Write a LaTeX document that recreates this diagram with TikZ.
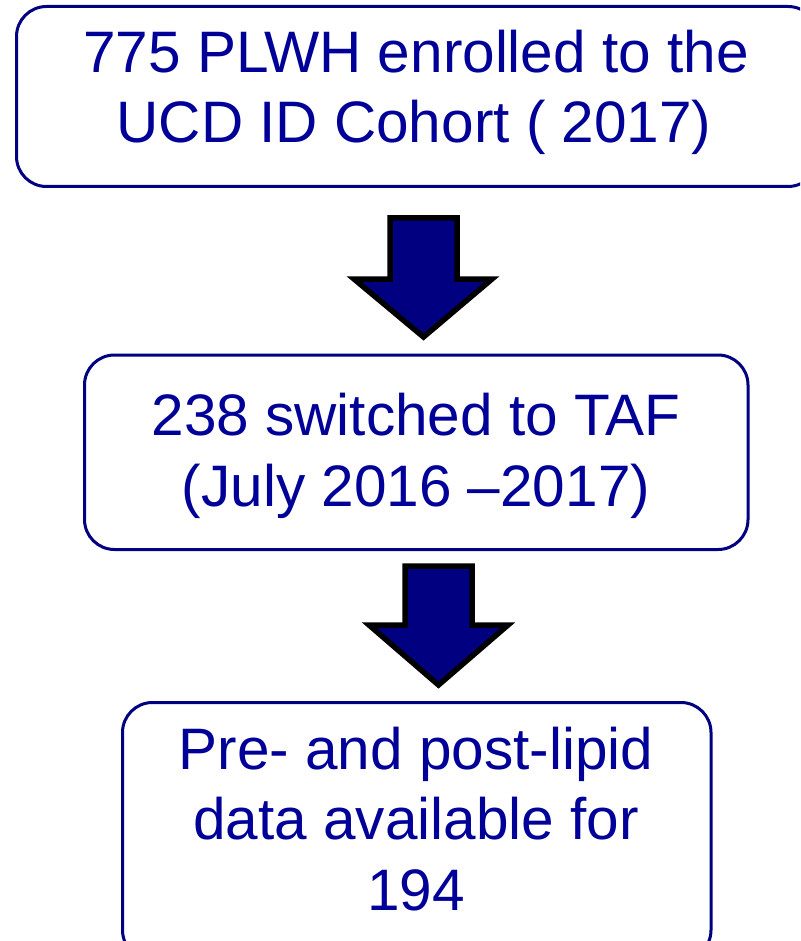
\documentclass[tikz,border=0pt]{standalone}
\usepackage{fontspec}
\setmainfont{Liberation Sans}
\definecolor{boxblue}{RGB}{0,0,128}
\definecolor{txtblue}{RGB}{0,0,153}
\definecolor{arrowfill}{RGB}{0,0,128}
\begin{document}
\begin{tikzpicture}[x=1pt,y=-1pt,
  box/.style={draw=boxblue, line width=3pt, rounded corners=30pt, rectangle, inner sep=0pt, outer sep=0pt},
  txt/.style={anchor=base, inner sep=0pt, text=txtblue, font=\fontsize{58.5}{70}\selectfont},
  bigarrow/.style={fill=arrowfill, draw=black, line width=5.5pt, miter limit=10}]
\useasboundingbox (0,0) rectangle (800,941);
\clip (0,0) rectangle (800,941);
\fill[white] (0,0) rectangle (800,941);
% boxes
\node[box, minimum width=801.5pt, minimum height=180pt] (b1) at (417.25,96.5) {};
\node[box, minimum width=663.5pt, minimum height=194.5pt] (b2) at (416.25,452.25) {};
\node[box, minimum width=588.5pt, minimum height=257.5pt] (b3) at (416.75,831.25) {};
% texts
\node[txt] (t1a) at (416,73) {775 PLWH enrolled to the};
\node[txt] (t1b) at (414,143) {UCD ID Cohort ( 2017)};
\node[txt] (t2a) at (416,435) {238 switched to TAF};
\node[txt] (t2b) at (416,506) {(July 2016 –2017)};
\node[txt] (t3a) at (416,769) {Pre- and post-lipid};
\node[txt] (t3b) at (416,839) {data available for};
\node[txt] (t3c) at (416,910) {194};
% arrows
\coordinate (a1) at (423.5,218);
\draw[bigarrow] (a1) ++(-33.5,0) -- ++(67,0) -- ++(0,61) -- ++(35,0) -- (423.5,337) -- (354,279) -- (390,279) -- cycle;
\coordinate (a2) at (438.5,566);
\draw[bigarrow] (a2) ++(-33.5,0) -- ++(67,0) -- ++(0,59) -- ++(36,0) -- (438.5,685) -- (369,625) -- (405,625) -- cycle;
\end{tikzpicture}
\end{document}
